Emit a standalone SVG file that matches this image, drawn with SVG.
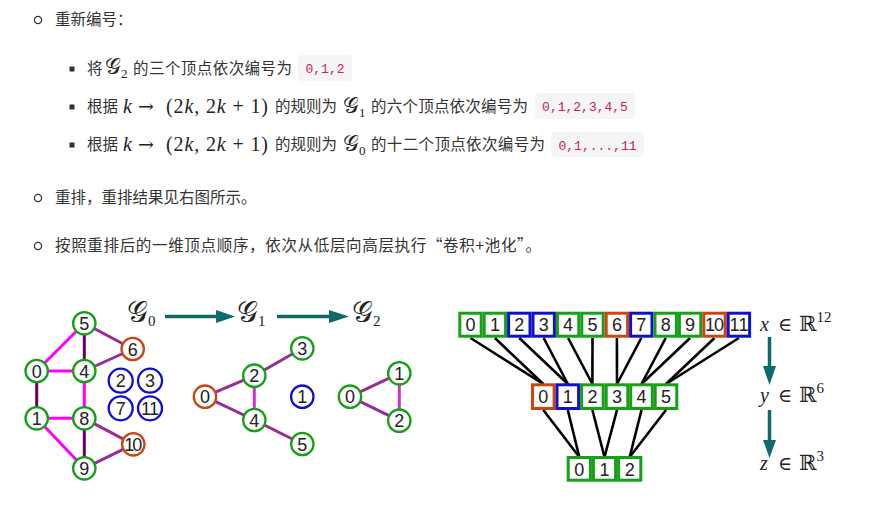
<svg xmlns="http://www.w3.org/2000/svg" width="875" height="521" viewBox="0 0 875 521">
<style>
.t{font-family:"Noto Sans CJK SC","Liberation Sans",sans-serif;font-size:15.5px;fill:#333}
.m{font-family:"Liberation Serif","DejaVu Serif",serif;font-size:20px;fill:#222}
.mi{font-style:italic}
.cg{font-size:22px}
.sub{font-size:13px}
.code{font-family:"Liberation Mono","DejaVu Sans Mono",monospace;font-size:13px;fill:#c7254e}
.cb{fill:#f5f5f5}
.e1{stroke:#ff00ff;stroke-width:3}
.e2{stroke:#660066;stroke-width:3}
.e3{stroke:#9b2a9b;stroke-width:3}
.e4{stroke:#cc33cc;stroke-width:3}
.n circle{fill:#fff;stroke-width:2.3}
.g circle{stroke:#16a016}
.o circle{stroke:#cc4411}
.b circle{stroke:#1010cc}
.n text{font-family:"Liberation Sans","DejaVu Sans",sans-serif;font-size:18px;fill:#222;text-anchor:middle}
.cell rect{fill:#fff;stroke-width:3}
.cell text{font-family:"Liberation Sans","DejaVu Sans",sans-serif;font-size:18px;fill:#222;text-anchor:middle}
.gc rect{stroke:#16a016}
.oc rect{stroke:#cc4411}
.bc rect{stroke:#1010cc}
.lk{stroke:#000;stroke-width:2.6}
.ar{fill:#0f6a6a}
.as{stroke:#0f6a6a;stroke-width:3.5}
.sym{font-family:"DejaVu Serif",serif}
</style>

<!-- text block -->
<g id="text">
<circle cx="38" cy="20" r="3.6" fill="none" stroke="#333" stroke-width="1.3"/>
<text class="t" x="55" y="25">重新编号：</text>

<rect x="69.5" y="66.5" width="5" height="5" fill="#333"/>
<text class="t" x="87" y="74">将</text>
<text class="m" x="105" y="74"><tspan class="cg">𝒢</tspan><tspan class="sub" dy="4">2</tspan></text>
<text class="t" x="133" y="74" textLength="159">的三个顶点依次编号为</text>
<rect class="cb" x="298" y="55" width="54" height="26" rx="4"/>
<text class="code" x="325" y="73" text-anchor="middle">0,1,2</text>

<rect x="69.5" y="104.5" width="5" height="5" fill="#333"/>
<text class="t" x="87" y="112">根据</text>
<text class="m" x="123" y="113"><tspan class="mi">k</tspan><tspan class="sym" x="138" font-size="19">→</tspan></text>
<text class="m" x="166" y="113" font-size="21" textLength="102">(2<tspan class="mi">k</tspan>, 2<tspan class="mi">k</tspan> + 1)</text>
<text class="t" x="275" y="112" textLength="62">的规则为</text>
<text class="m" x="343" y="113"><tspan class="cg">𝒢</tspan><tspan class="sub" dy="4">1</tspan></text>
<text class="t" x="371" y="112" textLength="157">的六个顶点依次编号为</text>
<rect class="cb" x="535" y="93" width="100" height="26" rx="4"/>
<text class="code" x="585" y="111" text-anchor="middle">0,1,2,3,4,5</text>

<rect x="69.5" y="142.5" width="5" height="5" fill="#333"/>
<text class="t" x="87" y="150">根据</text>
<text class="m" x="123" y="151"><tspan class="mi">k</tspan><tspan class="sym" x="138" font-size="19">→</tspan></text>
<text class="m" x="166" y="151" font-size="21" textLength="102">(2<tspan class="mi">k</tspan>, 2<tspan class="mi">k</tspan> + 1)</text>
<text class="t" x="275" y="150" textLength="62">的规则为</text>
<text class="m" x="343" y="151"><tspan class="cg">𝒢</tspan><tspan class="sub" dy="4">0</tspan></text>
<text class="t" x="371" y="150" textLength="174">的十二个顶点依次编号为</text>
<rect class="cb" x="551" y="132" width="93" height="25" rx="4"/>
<text class="code" x="597.5" y="149.5" text-anchor="middle">0,1,...,11</text>

<circle cx="38" cy="198" r="3.6" fill="none" stroke="#333" stroke-width="1.3"/>
<text class="t" x="55" y="203">重排，重排结果见右图所示。</text>

<circle cx="38" cy="246" r="3.6" fill="none" stroke="#333" stroke-width="1.3"/>
<text class="t" x="55" y="251" textLength="486">按照重排后的一维顶点顺序，依次从低层向高层执行“卷积+池化”。</text>
</g>

<!-- G labels -->
<g id="glabels">
<text class="m" x="127" y="322"><tspan font-size="29">𝒢</tspan><tspan font-size="15" dy="4">0</tspan></text>
<text class="m" x="237" y="322"><tspan font-size="29">𝒢</tspan><tspan font-size="15" dy="4">1</tspan></text>
<text class="m" x="352" y="322"><tspan font-size="29">𝒢</tspan><tspan font-size="15" dy="4">2</tspan></text>
</g>

<g id="connectors">
<!-- horizontal arrows -->
<line class="as" x1="165" y1="316.5" x2="218" y2="316.5"/>
<polygon class="ar" points="216,310 235,316.5 216,323"/>
<line class="as" x1="277" y1="316.5" x2="331" y2="316.5"/>
<polygon class="ar" points="329,310 349,316.5 329,323"/>
<!-- vertical arrows -->
<line class="as" x1="769.5" y1="337" x2="769.5" y2="368"/>
<polygon class="ar" points="763,366 776,366 769.5,385"/>
<line class="as" x1="769.5" y1="410" x2="769.5" y2="442"/>
<polygon class="ar" points="763,440 776,440 769.5,458"/>

<!-- G0 edges -->
<line class="e1" x1="84.3" y1="323.3" x2="36.7" y2="371"/>
<line class="e2" x1="84.3" y1="323.3" x2="84.3" y2="371"/>
<line class="e3" x1="84.3" y1="323.3" x2="132.7" y2="349"/>
<line class="e3" x1="132.7" y1="349" x2="84.3" y2="371"/>
<line class="e1" x1="36.7" y1="371" x2="84.3" y2="371"/>
<line class="e2" x1="36.7" y1="371" x2="36.7" y2="418.3"/>
<line class="e1" x1="84.3" y1="371" x2="84.3" y2="418.3"/>
<line class="e1" x1="36.7" y1="418.3" x2="84.3" y2="418.3"/>
<line class="e1" x1="36.7" y1="418.3" x2="84.3" y2="468.3"/>
<line class="e2" x1="84.3" y1="418.3" x2="84.3" y2="468.3"/>
<line class="e3" x1="84.3" y1="418.3" x2="133.3" y2="444.3"/>
<line class="e3" x1="84.3" y1="468.3" x2="133.3" y2="444.3"/>
<!-- G1 edges -->
<line class="e3" x1="205" y1="396.7" x2="254.3" y2="375.7"/>
<line class="e3" x1="254.3" y1="375.7" x2="302.3" y2="348.3"/>
<line class="e4" x1="254.3" y1="375.7" x2="254.3" y2="420"/>
<line class="e3" x1="205" y1="396.7" x2="254.3" y2="420"/>
<line class="e3" x1="254.3" y1="420" x2="302.3" y2="444"/>
<!-- G2 edges -->
<line class="e3" x1="350" y1="396.7" x2="399.3" y2="373.3"/>
<line class="e4" x1="399.3" y1="373.3" x2="399.3" y2="420.7"/>
<line class="e3" x1="350" y1="396.7" x2="399.3" y2="420.7"/>

<!-- top to middle -->
<line class="lk" x1="470.5" y1="338" x2="543.3" y2="384"/>
<line class="lk" x1="494.9" y1="338" x2="543.3" y2="384"/>
<line class="lk" x1="519.3" y1="338" x2="567.8" y2="384"/>
<line class="lk" x1="543.7" y1="338" x2="567.8" y2="384"/>
<line class="lk" x1="568.1" y1="338" x2="592.4" y2="384"/>
<line class="lk" x1="592.5" y1="338" x2="592.4" y2="384"/>
<line class="lk" x1="616.9" y1="338" x2="617" y2="384"/>
<line class="lk" x1="641.3" y1="338" x2="617" y2="384"/>
<line class="lk" x1="665.7" y1="338" x2="641.5" y2="384"/>
<line class="lk" x1="690.1" y1="338" x2="641.5" y2="384"/>
<line class="lk" x1="714.5" y1="338" x2="666" y2="384"/>
<line class="lk" x1="738.9" y1="338" x2="666" y2="384"/>
<!-- middle to bottom -->
<line class="lk" x1="543.3" y1="410" x2="579.3" y2="457"/>
<line class="lk" x1="567.8" y1="410" x2="579.3" y2="457"/>
<line class="lk" x1="592.4" y1="410" x2="604.5" y2="457"/>
<line class="lk" x1="617" y1="410" x2="604.5" y2="457"/>
<line class="lk" x1="641.5" y1="410" x2="629.7" y2="457"/>
<line class="lk" x1="666" y1="410" x2="629.7" y2="457"/>
</g>

<!-- G0 nodes -->
<g id="g0-5" class="n g"><circle cx="84.3" cy="323.3" r="11.2"/><text x="84.3" y="329.8">5</text></g>
<g id="g0-6" class="n o"><circle cx="132.7" cy="349" r="11.2"/><text x="132.7" y="355.5">6</text></g>
<g id="g0-0" class="n g"><circle cx="36.7" cy="371" r="11.2"/><text x="36.7" y="377.5">0</text></g>
<g id="g0-4" class="n g"><circle cx="84.3" cy="371" r="11.2"/><text x="84.3" y="377.5">4</text></g>
<g id="g0-2" class="n b"><circle cx="120.7" cy="380.7" r="12"/><text x="120.7" y="387.2">2</text></g>
<g id="g0-3" class="n b"><circle cx="150" cy="380.7" r="12"/><text x="150" y="387.2">3</text></g>
<g id="g0-7" class="n b"><circle cx="120.7" cy="408.3" r="12"/><text x="120.7" y="414.8">7</text></g>
<g id="g0-11" class="n b"><circle cx="150" cy="408.3" r="12"/><text x="150" y="414.8" textLength="18">11</text></g>
<g id="g0-1" class="n g"><circle cx="36.7" cy="418.3" r="11.2"/><text x="36.7" y="424.8">1</text></g>
<g id="g0-8" class="n g"><circle cx="84.3" cy="418.3" r="11.2"/><text x="84.3" y="424.8">8</text></g>
<g id="g0-10" class="n o"><circle cx="133.3" cy="444.3" r="11.2"/><text x="133.3" y="450.8" textLength="18">10</text></g>
<g id="g0-9" class="n g"><circle cx="84.3" cy="468.3" r="11.2"/><text x="84.3" y="474.8">9</text></g>

<!-- G1 nodes -->
<g id="g1-3" class="n g"><circle cx="302.3" cy="348.3" r="11.2"/><text x="302.3" y="354.8">3</text></g>
<g id="g1-2" class="n g"><circle cx="254.3" cy="375.7" r="11.2"/><text x="254.3" y="382.2">2</text></g>
<g id="g1-0" class="n o"><circle cx="205" cy="396.7" r="11.2"/><text x="205" y="403.2">0</text></g>
<g id="g1-1" class="n b"><circle cx="302.3" cy="396.7" r="11.2"/><text x="302.3" y="403.2">1</text></g>
<g id="g1-4" class="n g"><circle cx="254.3" cy="420" r="11.2"/><text x="254.3" y="426.5">4</text></g>
<g id="g1-5" class="n g"><circle cx="302.3" cy="444" r="11.2"/><text x="302.3" y="450.5">5</text></g>

<!-- G2 nodes -->
<g id="g2-1" class="n g"><circle cx="399.3" cy="373.3" r="11.2"/><text x="399.3" y="379.8">1</text></g>
<g id="g2-0" class="n g"><circle cx="350" cy="396.7" r="11.2"/><text x="350" y="403.2">0</text></g>
<g id="g2-2" class="n g"><circle cx="399.3" cy="420.7" r="11.2"/><text x="399.3" y="427.2">2</text></g>

<!-- top row x -->
<g id="x-0" class="cell gc"><rect x="459.8" y="313.2" width="21.4" height="23"/><text x="470.5" y="331.3">0</text></g>
<g id="x-1" class="cell gc"><rect x="484.2" y="313.2" width="21.4" height="23"/><text x="494.9" y="331.3">1</text></g>
<g id="x-2" class="cell bc"><rect x="508.6" y="313.2" width="21.4" height="23"/><text x="519.3" y="331.3">2</text></g>
<g id="x-3" class="cell bc"><rect x="533" y="313.2" width="21.4" height="23"/><text x="543.7" y="331.3">3</text></g>
<g id="x-4" class="cell gc"><rect x="557.4" y="313.2" width="21.4" height="23"/><text x="568.1" y="331.3">4</text></g>
<g id="x-5" class="cell gc"><rect x="581.8" y="313.2" width="21.4" height="23"/><text x="592.5" y="331.3">5</text></g>
<g id="x-6" class="cell oc"><rect x="606.2" y="313.2" width="21.4" height="23"/><text x="616.9" y="331.3">6</text></g>
<g id="x-7" class="cell bc"><rect x="630.6" y="313.2" width="21.4" height="23"/><text x="641.3" y="331.3">7</text></g>
<g id="x-8" class="cell gc"><rect x="655" y="313.2" width="21.4" height="23"/><text x="665.7" y="331.3">8</text></g>
<g id="x-9" class="cell gc"><rect x="679.4" y="313.2" width="21.4" height="23"/><text x="690.1" y="331.3">9</text></g>
<g id="x-10" class="cell oc"><rect x="703.8" y="313.2" width="21.4" height="23"/><text x="714.5" y="331.3" textLength="19">10</text></g>
<g id="x-11" class="cell bc"><rect x="728.2" y="313.2" width="21.4" height="23"/><text x="738.9" y="331.3" textLength="19">11</text></g>

<!-- middle row y -->
<g id="y-0" class="cell oc"><rect x="532.5" y="384.8" width="21.6" height="23.7"/><text x="543.3" y="403.3">0</text></g>
<g id="y-1" class="cell bc"><rect x="557" y="384.8" width="21.6" height="23.7"/><text x="567.8" y="403.3">1</text></g>
<g id="y-2" class="cell gc"><rect x="581.6" y="384.8" width="21.6" height="23.7"/><text x="592.4" y="403.3">2</text></g>
<g id="y-3" class="cell gc"><rect x="606.2" y="384.8" width="21.6" height="23.7"/><text x="617" y="403.3">3</text></g>
<g id="y-4" class="cell gc"><rect x="630.7" y="384.8" width="21.6" height="23.7"/><text x="641.5" y="403.3">4</text></g>
<g id="y-5" class="cell gc"><rect x="655.2" y="384.8" width="21.6" height="23.7"/><text x="666" y="403.3">5</text></g>

<!-- bottom row z -->
<g id="z-0" class="cell gc"><rect x="568.2" y="457.5" width="22.2" height="22.7"/><text x="579.3" y="475.8">0</text></g>
<g id="z-1" class="cell gc"><rect x="593.4" y="457.5" width="22.2" height="22.7"/><text x="604.5" y="475.8">1</text></g>
<g id="z-2" class="cell gc"><rect x="618.6" y="457.5" width="22.2" height="22.7"/><text x="629.7" y="475.8">2</text></g>

<!-- space labels -->
<g id="labels">
<text class="m" x="760" y="331" font-size="21"><tspan class="mi">x</tspan><tspan class="sym" x="778" font-size="19">∈</tspan><tspan class="sym" x="799" font-size="21">ℝ</tspan><tspan font-size="15" dy="-9">12</tspan></text>
<text class="m" x="760" y="402" font-size="21"><tspan class="mi">y</tspan><tspan class="sym" x="778" font-size="19">∈</tspan><tspan class="sym" x="799" font-size="21">ℝ</tspan><tspan font-size="15" dy="-9">6</tspan></text>
<text class="m" x="760" y="470" font-size="21"><tspan class="mi">z</tspan><tspan class="sym" x="778" font-size="19">∈</tspan><tspan class="sym" x="799" font-size="21">ℝ</tspan><tspan font-size="15" dy="-9">3</tspan></text>
</g>
</svg>
